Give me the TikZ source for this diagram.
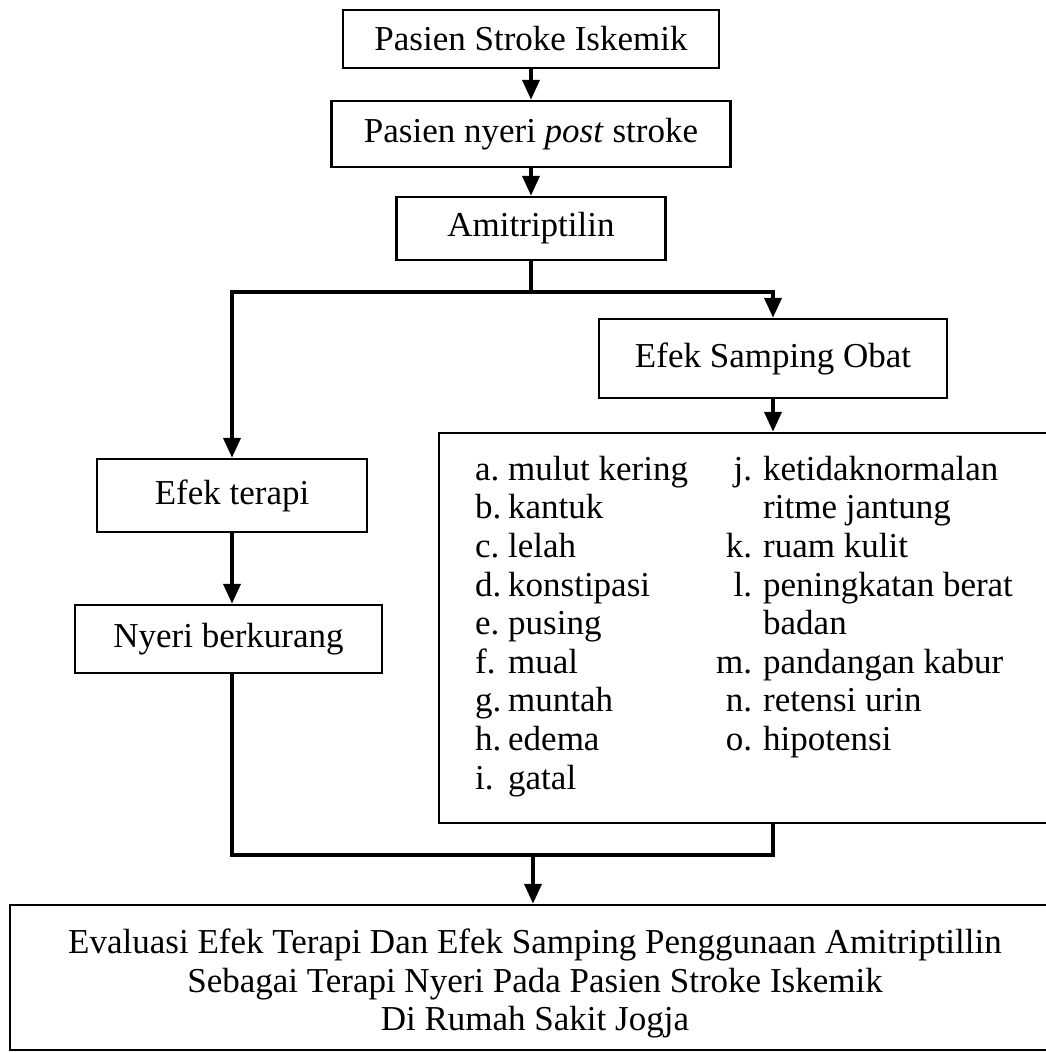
\documentclass[tikz,border=0pt]{standalone}
\usepackage{fontspec}
\setmainfont{Liberation Serif}
\usepackage{tikz}
\usetikzlibrary{arrows.meta,positioning,calc}

\begin{document}
\begin{tikzpicture}[x=1pt, y=-1pt,
    box/.style={rectangle, draw, line width=2.5pt, align=center, inner sep=0pt, font=\fontsize{35}{38.6}\selectfont},
    arrow/.style={-{Triangle[length=20pt,width=17pt]}, line width=4pt},
    link/.style={line width=4pt}
]
    \useasboundingbox (0,0) rectangle (1045,1053);

    \node[box, minimum width=376pt, minimum height=58pt] (stroke) at (531,39) {Pasien Stroke Iskemik};
    \node[box, minimum width=399pt, minimum height=66pt] (post) at (531,134) {Pasien nyeri \textit{post} stroke};
    \node[box, minimum width=269pt, minimum height=63pt] (amit) at (531,228.5) {Amitriptilin};
    \coordinate (split) at (531,292);

    \node[box, minimum width=348pt, minimum height=79pt] (eso) at (773,358.5) {Efek Samping Obat};
    \node[box, minimum width=621pt, minimum height=390pt] (listbox) at (749.5,628) {};
    \node[anchor=north west, inner sep=0pt, font=\fontsize{35}{38.6}\selectfont] (gejala) at (475,453) {%
        \begin{tabular}{@{}p{33pt}@{}p{208pt}@{}r@{\hspace{11pt}}l@{}}
        a. & mulut kering & j. & ketidaknormalan \\
        b. & kantuk & & ritme jantung \\
        c. & lelah & k. & ruam kulit \\
        d. & konstipasi & l. & peningkatan berat \\
        e. & pusing & & badan \\
        f. & mual & m. & pandangan kabur \\
        g. & muntah & n. & retensi urin \\
        h. & edema & o. & hipotensi \\
        i. & gatal & & \\
        \end{tabular}};

    \node[box, minimum width=270pt, minimum height=73pt] (terapi) at (232,495.5) {Efek terapi};
    \node[box, minimum width=307pt, minimum height=68pt] (nyeri) at (228.5,639) {Nyeri berkurang};

    \coordinate (merge) at (533,855);
    \node[box, minimum width=1050pt, minimum height=145pt] (eval) at (535,977.5) {\begin{tabular}{@{}c@{}}\rule{0pt}{41pt}Evaluasi Efek Terapi Dan Efek Samping Penggunaan Amitriptillin\\Sebagai Terapi Nyeri Pada Pasien Stroke Iskemik\\Di Rumah Sakit Jogja\end{tabular}};

    \draw[arrow] (stroke) -- (post);
    \draw[arrow] (post) -- (amit);
    \draw[link] (amit) -- (split);
    \draw[arrow] (split) -| (terapi);
    \draw[arrow] (split) -| (eso);
    \draw[arrow] (eso.south) -- (eso.south |- listbox.north);
    \draw[arrow] (terapi) -- (terapi |- nyeri.north);
    \draw[link] (terapi |- nyeri.south) |- (merge) -| (eso.south |- listbox.south);
    \draw[arrow] (merge) -- (merge |- eval.north);
\end{tikzpicture}
\end{document}
